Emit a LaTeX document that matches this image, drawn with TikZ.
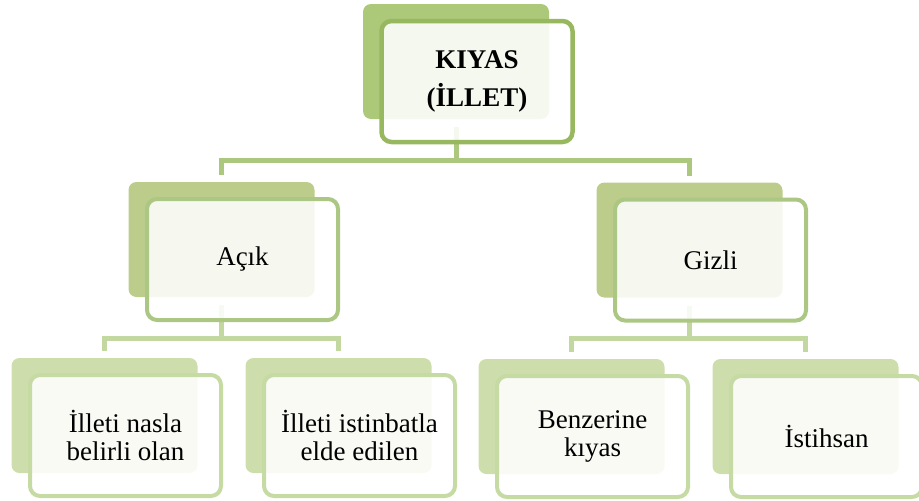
\documentclass[tikz,border=0pt]{standalone}
\usepackage{fontspec}
\setmainfont{Liberation Serif}
\definecolor{backA}{HTML}{ACC97A}
\definecolor{lineA}{HTML}{98B860}
\definecolor{linkA}{HTML}{ACC77E}
\definecolor{backB}{HTML}{BCCC8B}
\definecolor{lineB}{HTML}{ABC783}
\definecolor{linkB}{HTML}{C3D7A1}
\definecolor{backC}{HTML}{CEDDAC}
\definecolor{lineC}{HTML}{C6DAA4}
\tikzset{
	back/.style={rounded corners=8pt, minimum width=186pt, minimum height=115pt, inner sep=0pt},
	front/.style={draw, rounded corners=10pt, line width=4pt, fill=white, fill opacity=0.88, text opacity=1,
		minimum width=191pt, minimum height=121pt, inner sep=0pt, align=center, font=\fontsize{27}{28}\selectfont},
	link/.style={line width=5pt, shorten <=8pt, shorten >=6.5pt}
}

\begin{document}
\begin{tikzpicture}[x=1pt, y=-1pt]
		%%%%% START %%%%%
		\useasboundingbox (0, 0) rectangle (919, 501);
		
		% back cards
		\node[back, fill=backA] (kiyasB) at (456, 61.5) {};
		\node[back, fill=backB] (acikB) at (221.5, 239.5) {};
		\node[back, fill=backB] (gizliB) at (689.5, 240) {};
		\node[back, fill=backC] (naslaB) at (104.5, 415.5) {};
		\node[back, fill=backC] (istinbatB) at (338.5, 415.5) {};
		\node[back, fill=backC] (benzerB) at (571.5, 416.5) {};
		\node[back, fill=backC] (istihsanB) at (805.5, 416.5) {};
		
		% links
		\draw[link, linkA] (kiyasB.south) -- ++(0, 41) -| (acikB.north);
		\draw[link, linkA] (kiyasB.south) -- ++(0, 41) -| (gizliB.north);
		\draw[link, linkB] (acikB.south) -- ++(0, 41) -| (naslaB.north);
		\draw[link, linkB] (acikB.south) -- ++(0, 41) -| (istinbatB.north);
		\draw[link, linkB] (gizliB.south) -- ++(0, 41) -| (benzerB.north);
		\draw[link, linkB] (gizliB.south) -- ++(0, 41) -| (istihsanB.north);
		
		% front cards
		\node[front, draw=lineA, line width=4.5pt] (kiyas) at (477, 81.5) {\bfseries KIYAS\\[10pt]\bfseries (İLLET)};
		\node[front, draw=lineB] (acik) at (242.5, 259.5) {Açık};
		\node[front, draw=lineB] (gizli) at (710.5, 260) {Gizli};
		\node[front, draw=lineC] (nasla) at (125.5, 435.5) {İlleti nasla\\belirli olan};
		\node[front, draw=lineC] (istinbat) at (359.5, 435.5) {İlleti istinbatla\\elde edilen};
		\node[front, draw=lineC] (benzer) at (592.5, 436.5) {Benzerine\\kıyas};
		\node[front, draw=lineC] (istihsan) at (826.5, 436.5) {İstihsan};
		
		%%%%% END %%%%%
\end{tikzpicture}
\end{document}
